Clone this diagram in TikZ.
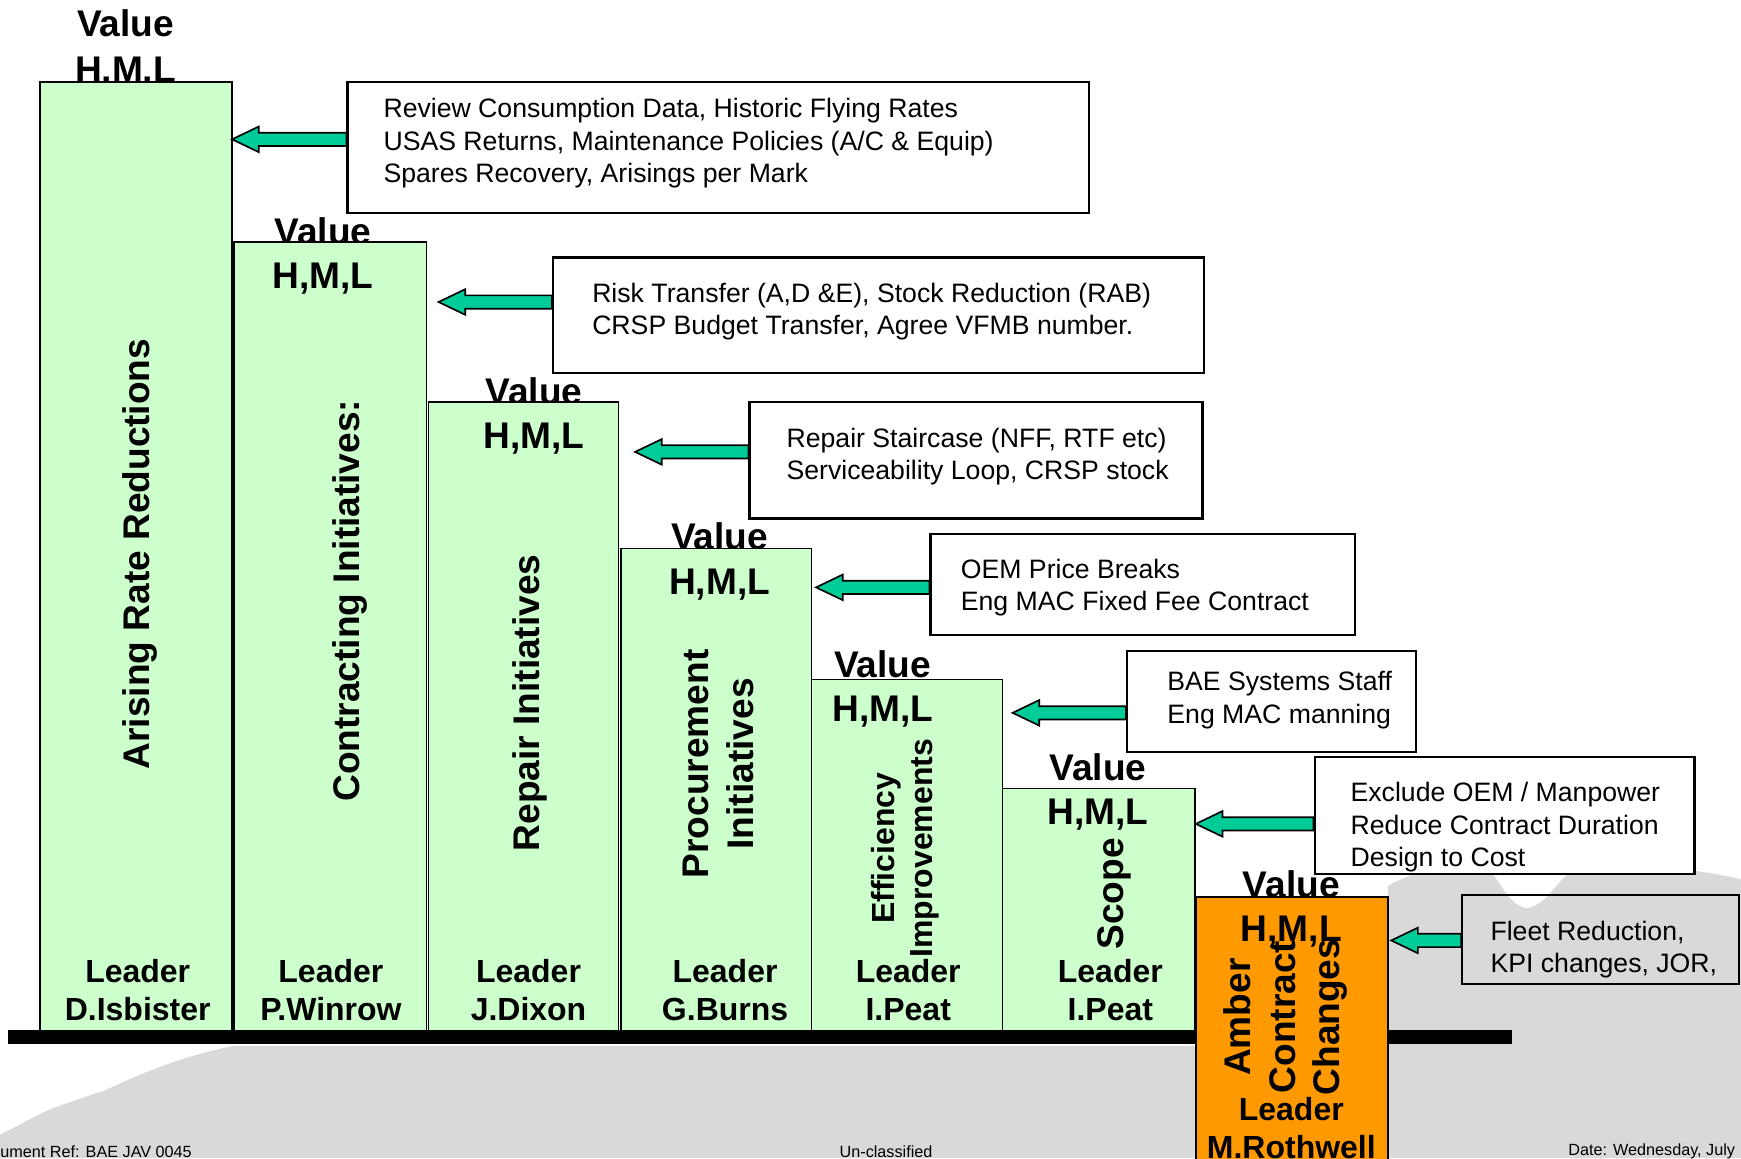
\documentclass[tikz,border=0pt]{standalone}
\usepackage{fontspec}
\setmainfont{Liberation Sans}
\usetikzlibrary{calc,fit}
\definecolor{barfill}{RGB}{204,255,204}
\definecolor{amber}{RGB}{255,153,0}
\definecolor{arrowgreen}{RGB}{0,204,153}
\definecolor{bggray}{RGB}{217,217,217}
\def\blockarrow(#1)(#2){\draw[arrowstyle] let \p1=(#1), \p2=(#2) in (\x1,\y1+3pt) -- (\x2+12pt,\y1+3pt) -- (\x2+12pt,\y1+5.75pt) -- (\x2,\y1) -- (\x2+12pt,\y1-5.75pt) -- (\x2+12pt,\y1-3pt) -- (\x1,\y1-3pt) -- cycle;}
\tikzset{
	bar/.style={draw=black, line width=0.75pt, fill=barfill, inner sep=0pt},
	ambar/.style={bar, fill=amber},
	infobox/.style={draw=black, line width=1pt, fill=white, inner sep=0pt},
	clearbox/.style={draw=black, line width=1pt, inner sep=0pt},
	boxtext/.style={font=\fontsize{12}{14.5}\selectfont, align=left, inner sep=0pt, anchor=west},
	valtext/.style={font=\fontsize{16.7}{20}\selectfont\bfseries, inner sep=0pt, anchor=base},
	bartext/.style={font=\fontsize{16.7}{20}\selectfont\bfseries, align=center, inner sep=0pt, rotate=90},
	leadtext/.style={font=\fontsize{14.4}{17}\selectfont\bfseries, align=center, inner sep=0pt},
	foot/.style={font=\fontsize{7.3}{9}\selectfont, inner sep=0pt},
	arrowstyle/.style={draw=black, line width=0.75pt, fill=arrowgreen, line join=miter}
}
\begin{document}
\begin{tikzpicture}[x=0.5pt, y=-0.5pt]
		%%%%% START %%%%%
		\useasboundingbox (0,0) rectangle (1568,1043);
		\clip (0,0) rectangle (1568,1043);
		
		% ground
		\fill[bggray] (0,1043) -- (0,1022) .. controls (20,1012) and (35,1003) .. (48,998) .. controls (70,990) and (85,985) .. (95,982) .. controls (120,970) and (160,952) .. (210,942) -- (1250,942) -- (1250,798) .. controls (1270,786) and (1300,778) .. (1335,780) .. controls (1350,786) and (1356,815) .. (1375,818) .. controls (1395,815) and (1402,790) .. (1420,783) .. controls (1450,777) and (1520,780) .. (1568,792) -- (1568,1043) -- cycle;
		
		% value labels behind the bars
		\node[valtext] (v1) at (113,33) {Value};
		\node[valtext] (h1) at (113,74) {H,M,L};
		\node[valtext] (v2) at (291,220) {Value};
		\node[valtext] (v3) at (481,364) {Value};
		\node[valtext] (v4) at (648,495) {Value};
		\node[valtext] (v5) at (795,610) {Value};
		\node[valtext] (v6) at (989,703) {Value};
		\node[valtext] (v7) at (1163,808) {Value};
		
		% staircase
		\node[bar, fit={(36,74) (209,929)}] (bar1) {};
		\node[bar, fit={(211,218) (384,929)}] (bar2) {};
		\node[bar, fit={(386,362) (557,929)}] (bar3) {};
		\node[bar, fit={(559,494) (731,929)}] (bar4) {};
		\node[bar, fit={(731,612) (903,929)}] (bar5) {};
		\node[bar, fit={(903,710) (1076,929)}] (bar6) {};
		\fill[black] (7,928) rectangle (1362,940);
		\node[ambar, fit={(1077,808) (1250,1070)}] (bar7) {};
		
		% boxes
		\node[infobox, fit={(313,74) (981,192)}] (box1) {};
		\node[infobox, fit={(498,232) (1084,336)}] (box2) {};
		\node[infobox, fit={(675,362) (1083,467)}] (box3) {};
		\node[infobox, fit={(838,481) (1220,572)}] (box4) {};
		\node[infobox, fit={(1015,586) (1275,677)}] (box5) {};
		\node[infobox, fit={(1184,682) (1526,787)}] (box6) {};
		\node[clearbox, fit={(1317,806) (1566,886)}] (box7) {};
		
		\node[boxtext] (t1) at (345,129) {Review Consumption Data, Historic Flying Rates\\USAS Returns, Maintenance Policies (A/C \& Equip)\\Spares Recovery, Arisings per Mark};
		\node[boxtext] (t2) at (533,280.5) {Risk Transfer (A,D \&E), Stock Reduction (RAB)\\CRSP Budget Transfer, Agree VFMB number.};
		\node[boxtext] (t3) at (708,411.5) {Repair Staircase (NFF, RTF etc)\\Serviceability Loop, CRSP stock};
		\node[boxtext] (t4) at (865,529.5) {OEM Price Breaks\\Eng MAC Fixed Fee Contract};
		\node[boxtext] (t5) at (1051,630.5) {BAE Systems Staff\\Eng MAC manning};
		\node[boxtext] (t6) at (1216,745) {Exclude OEM / Manpower\\Reduce Contract Duration\\Design to Cost};
		\node[boxtext] (t7) at (1342,855.5) {Fleet Reduction,\\KPI changes, JOR,};
		
		% arrows
		\coordinate (tip1) at (209,125.5);
		\coordinate (tip2) at (395,272);
		\coordinate (tip3) at (572,407);
		\coordinate (tip4) at (735,529);
		\coordinate (tip5) at (912,642);
		\coordinate (tip6) at (1077,742);
		\coordinate (tip7) at (1253,847);
		\blockarrow(box1.west |- tip1)(tip1)
		\blockarrow(box2.west |- tip2)(tip2)
		\blockarrow(box3.west |- tip3)(tip3)
		\blockarrow(box4.west |- tip4)(tip4)
		\blockarrow(box5.west |- tip5)(tip5)
		\blockarrow(box6.west |- tip6)(tip6)
		\blockarrow(box7.west |- tip7)(tip7)
		
		% bar texts
		\node[valtext] (h2) at (291,260) {H,M,L};
		\node[valtext] (h3) at (481,404) {H,M,L};
		\node[valtext] (h4) at (648,535) {H,M,L};
		\node[valtext] (h5) at (795,650) {H,M,L};
		\node[valtext] (h6) at (989,743) {H,M,L};
		\node[valtext] (h7) at (1163,848) {H,M,L};
		
		\node[bartext] (n1) at (126,499) {Arising Rate Reductions};
		\node[bartext] (n2) at (315,541) {Contracting Initiatives:};
		\node[bartext] (n3) at (477,633) {Repair Initiatives};
		\node[bartext] (n4) at (647,688) {Procurement\\Initiatives};
		\node[bartext, font=\fontsize{14.4}{17}\selectfont\bfseries] (n5) at (815,764) {Efficiency\\Improvements};
		\node[bartext] (n6) at (1004,805) {Scope};
		\node[bartext] (n7) at (1158,916) {Amber\\Contract\\Changes};
		
		\node[leadtext] (l1) at (124,892) {Leader\\D.Isbister};
		\node[leadtext] (l2) at (298,892) {Leader\\P.Winrow};
		\node[leadtext] (l3) at (476,892) {Leader\\J.Dixon};
		\node[leadtext] (l4) at (653,892) {Leader\\G.Burns};
		\node[leadtext] (l5) at (818,892) {Leader\\I.Peat};
		\node[leadtext] (l6) at (1000,892) {Leader\\I.Peat};
		\node[leadtext] (l7) at (1163,1016) {Leader\\M.Rothwell};
		
		% footer
		\node[foot, anchor=west] (f1) at (0,1037) {ument Ref: BAE JAV 0045};
		\node[foot] (f2) at (798,1037) {Un-classified};
		\node[foot, anchor=east] (f3) at (1563,1037) {Date: Wednesday, July};
		%%%%% END %%%%%
\end{tikzpicture}
\end{document}
